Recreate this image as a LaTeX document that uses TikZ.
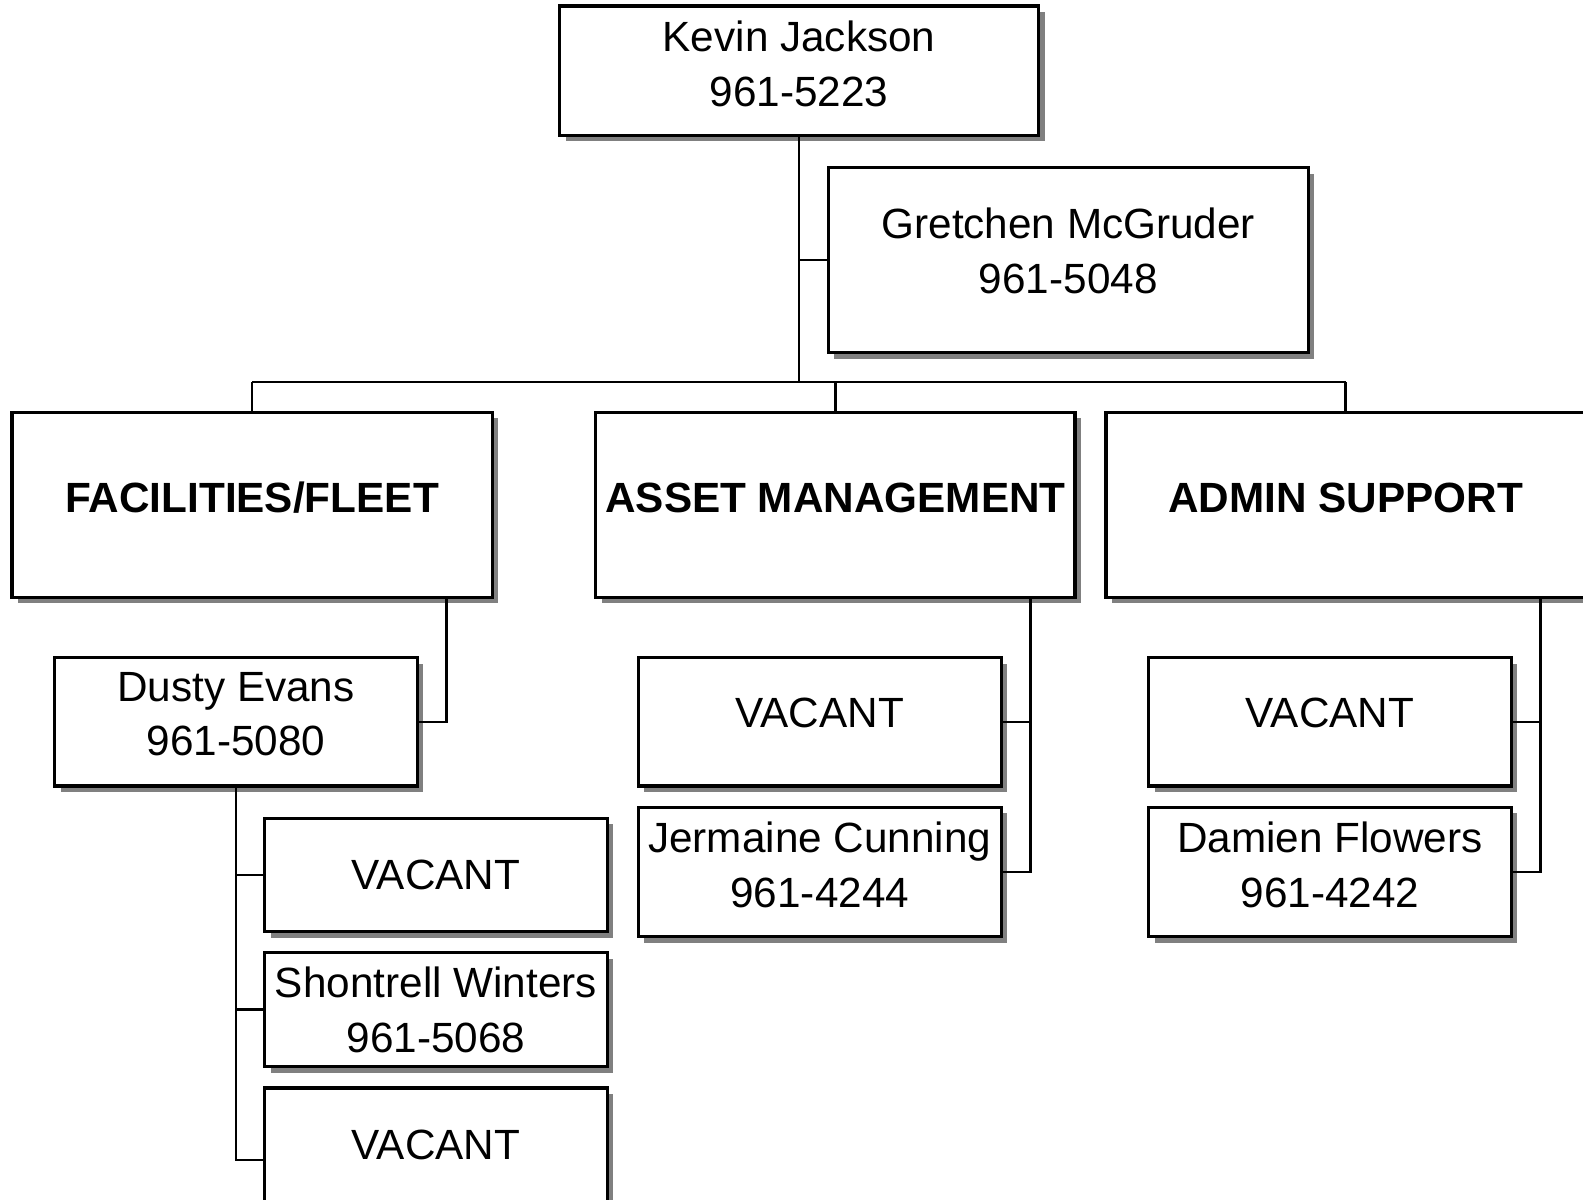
\documentclass[tikz,border=0pt]{standalone}
\usepackage{fontspec}
\setmainfont{Liberation Sans}
\usetikzlibrary{shadows}
\tikzset{
  box/.style={draw=black, line width=0.9pt, fill=white, inner sep=0pt,
    drop shadow={shadow xshift=0.06cm, shadow yshift=-0.06cm, fill=black!50, opacity=1}},
  lbl/.style={inner sep=0pt, align=center, font=\fontsize{11.9}{15.4}\selectfont},
  blbl/.style={lbl, font=\fontsize{11.9}{15.4}\selectfont\bfseries},
  conn/.style={draw=black, line width=0.7pt}
}
\begin{document}
\begin{tikzpicture}[x=0.01cm, y=-0.01cm]
\useasboundingbox (0,0) rectangle (1567,1187);
\clip (0,0) rectangle (1567,1187);
% boxes
\node[box, minimum width=4.74cm, minimum height=1.28cm] (kevin) at (791,70) {};
\node[box, minimum width=4.75cm, minimum height=1.83cm] (gretchen) at (1057.5,257.5) {};
\node[box, minimum width=4.75cm, minimum height=1.83cm] (fac) at (249.5,499.5) {};
\node[box, minimum width=4.74cm, minimum height=1.83cm] (asset) at (827,499.5) {};
\node[box, minimum width=5.25cm, minimum height=1.83cm] (admin) at (1357.5,499.5) {};
\node[box, minimum width=3.59cm, minimum height=1.27cm] (dusty) at (233.5,714.5) {};
\node[box, minimum width=3.59cm, minimum height=1.27cm] (assetvac) at (811.5,714.5) {};
\node[box, minimum width=3.59cm, minimum height=1.28cm] (jermaine) at (811.5,863) {};
\node[box, minimum width=3.59cm, minimum height=1.27cm] (adminvac) at (1316.5,714.5) {};
\node[box, minimum width=3.59cm, minimum height=1.28cm] (damien) at (1316.5,863) {};
\node[box, minimum width=3.39cm, minimum height=1.12cm] (facvaca) at (431.5,866) {};
\node[box, minimum width=3.39cm, minimum height=1.13cm] (shontrell) at (431.5,999.5) {};
\node[box, minimum width=3.39cm, minimum height=1.43cm] (facvacb) at (431.5,1148.5) {};
% texts
\node[lbl] (kevint) at (791,63) {Kevin Jackson\\961-5223};
\node[lbl] (gretchent) at (1057.5,248) {Gretchen McGruder\\961-5048};
\node[blbl] (fact) at (249.5,493) {FACILITIES/FLEET};
\node[blbl] (assett) at (827,493) {ASSET MANAGEMENT};
\node[blbl] (admint) at (1332,493) {ADMIN SUPPORT};
\node[lbl] (dustyt) at (233.5,707) {Dusty Evans\\961-5080};
\node[lbl] (assetvact) at (811.5,706) {VACANT};
\node[lbl] (jermainet) at (811.5,856) {Jermaine Cunning\\961-4244};
\node[lbl] (adminvact) at (1316.5,706) {VACANT};
\node[lbl] (damient) at (1316.5,856) {Damien Flowers\\961-4242};
\node[lbl] (facvacat) at (431.5,866) {VACANT};
\node[lbl] (shontrellt) at (431.5,1000) {Shontrell Winters\\961-5068};
\node[lbl] (facvacbt) at (431.5,1133) {VACANT};
% connectors
\coordinate (busy) at (0,378);
\coordinate (addrop) at (1525,591);
\coordinate (asdrop) at (1020,591);
\coordinate (facdrop) at (442,591);
\draw[conn] (kevin.south) -- (kevin.south |- busy);
\draw[conn] (kevin.south |- gretchen.west) -- (gretchen.west);
\draw[conn] (fac.north |- busy) -- (admint |- busy);
\draw[conn] (fac.north) -- (fac.north |- busy);
\draw[conn] (asset.north) -- (asset.north |- busy);
\draw[conn] (admint |- admin.north) -- (admint |- busy);
\draw[conn] (facdrop) |- (dusty.east);
\draw[conn] (dusty.south) |- (facvacb.west);
\draw[conn] (dusty.south |- facvaca.west) -- (facvaca.west);
\draw[conn] (dusty.south |- shontrell.west) -- (shontrell.west);
\draw[conn] (asdrop) |- (jermaine.east);
\draw[conn] (assetvac.east) -- (assetvac.east -| asdrop);
\draw[conn] (addrop) |- (damien.east);
\draw[conn] (adminvac.east) -- (adminvac.east -| addrop);
\end{tikzpicture}
\end{document}
